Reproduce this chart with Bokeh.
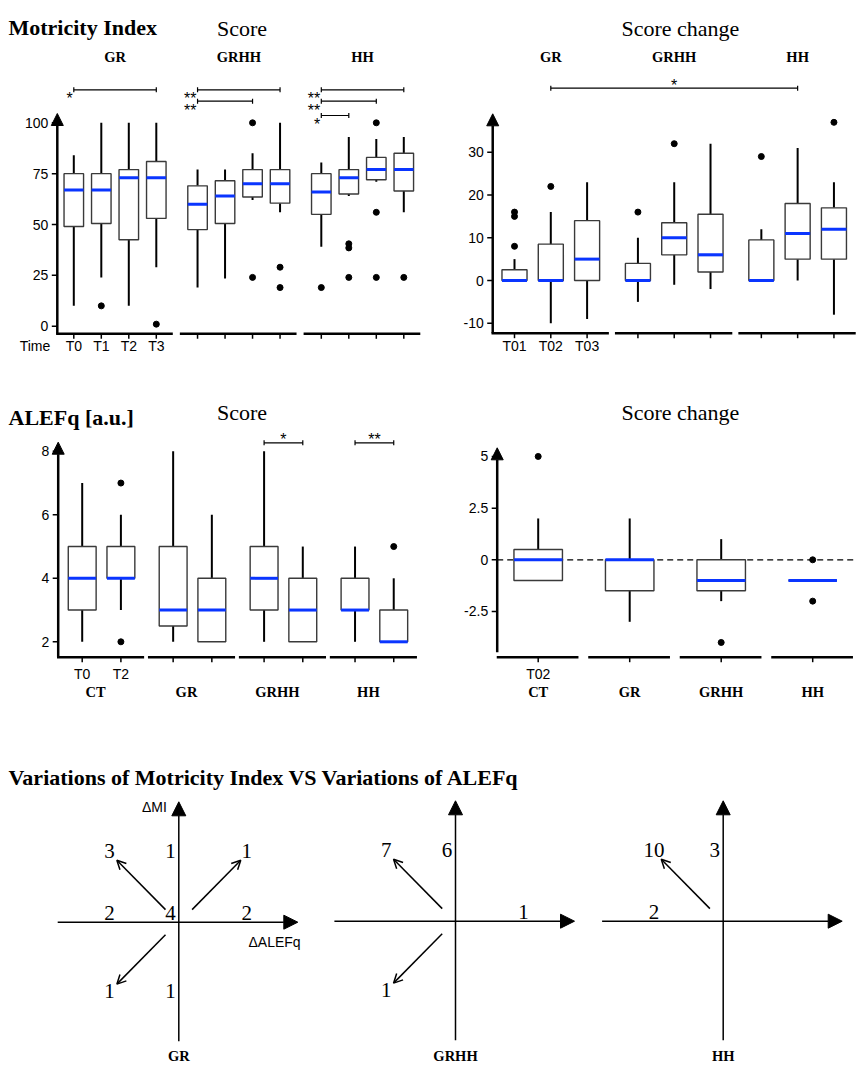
import numpy as np
from bokeh.plotting import figure
from bokeh.models import Range1d, Arrow, NormalHead, OpenHead
from bokeh.layouts import column, row
from bokeh.core.properties import value
from bokeh.embed import file_html
from bokeh.resources import INLINE

SERIF = "Liberation Serif"
SANS = "Liberation Sans"
BLUE = "#0a35ff"
BOXLINE = "#3a3a3a"

# ---------------- data ----------------
# Motricity Index score (five-number summaries per group x time)
mi_groups = ["GR", "GRHH", "HH"]
mi_times = ["T0", "T1", "T2", "T3"]
mi_lo = [10, 24, 10, 29, 19, 23.5, 62, 56, 39, 64, 71, 56]
mi_q1 = [49, 50.5, 42.5, 53, 47.5, 50.5, 63.5, 60.5, 55, 65, 72, 66.5]
mi_med = [67, 67, 73, 73, 60, 64, 70, 70, 66, 73, 77, 77]
mi_q3 = [75, 75, 77, 81, 69, 71.5, 77, 77, 75, 77, 83, 85]
mi_hi = [84, 100, 100, 100, 77, 77, 85, 100, 80.5, 93, 92, 93]
mi_out = [[], [10], [], [1], [], [], [100, 24], [29, 19], [19], [40.5, 38.5, 24], [100, 56, 24], [24]]
mi_ticks = [0, 25, 50, 75, 100]
# (group, from time index, to time index, stars, bracket row)
mi_sig = [("GR", 0, 3, "*", 0), ("GRHH", 0, 3, "**", 0), ("GRHH", 0, 2, "**", 1),
          ("HH", 0, 3, "**", 0), ("HH", 0, 2, "**", 1), ("HH", 0, 1, "*", 2)]

# Motricity Index score change
mic_times = ["T01", "T02", "T03"]
mic_lo = [0, -10, -9, -5, -1, -2, 0, 0, -8]
mic_q1 = [0, 0, 0, 0, 6, 2, 0, 5, 5]
mic_med = [0, 0, 5, 0, 10, 6, 0, 11, 12]
mic_q3 = [2.5, 8.5, 14, 4, 13.5, 15.5, 9.5, 18, 17]
mic_hi = [5, 16, 23, 10, 23, 32, 12, 31, 23]
mic_out = [[16, 15, 8], [22], [], [16], [32], [], [29], [], [37]]
mic_ticks = [-10, 0, 10, 20, 30]
mic_sig = [("GR", 1, "HH", 1, "*")]

# ALEFq score
al_groups = ["CT", "GR", "GRHH", "HH"]
al_times = ["T0", "T2"]
al_lo = [2, 3, 2, 2, 2, 2, 2, 2]
al_q1 = [3, 4, 2.5, 2, 3, 2, 3, 2]
al_med = [4, 4, 3, 3, 4, 3, 3, 2]
al_q3 = [5, 5, 5, 4, 5, 4, 4, 3]
al_hi = [7, 6, 8, 6, 8, 5, 5, 4]
al_out = [[], [7, 2], [], [], [], [], [], [5]]
al_ticks = [2, 4, 6, 8]
al_sig = [("GRHH", "*"), ("HH", "**")]

# ALEFq score change
alc_groups = ["CT", "GR", "GRHH", "HH"]
alc_time = "T02"
alc_lo = [-1, -3, -2, -1]
alc_q1 = [-1, -1.5, -1.5, -1]
alc_med = [0, 0, -1, -1]
alc_q3 = [0.5, 0, 0, -1]
alc_hi = [2, 2, 1, -1]
alc_out = [[5], [], [-4], [0, -2]]
alc_ticks = [-2.5, 0, 2.5, 5]

# Quadrant counts: rows dMI (+, 0, -), cols dALEFq (-, 0, +)
quad_groups = ["GR", "GRHH", "HH"]
quad_gr = [[3, 1, 1], [2, 4, 2], [1, 1, 0]]
quad_grhh = [[7, 6, 0], [0, 0, 1], [1, 0, 0]]
quad_hh = [[10, 3, 0], [2, 0, 0], [0, 0, 0]]


# ---------------- helpers ----------------
def make_fig(rect, xa_px, xa_val, x_ppu, ya_px, ya_val, y_ppu):
    x0, y0, x1, y1 = rect
    xr = Range1d(xa_val + (x0 - xa_px) / x_ppu, xa_val + (x1 - xa_px) / x_ppu)
    yr = Range1d(ya_val - (y1 - ya_px) / y_ppu, ya_val + (ya_px - y0) / y_ppu)
    p = figure(width=x1 - x0, height=y1 - y0, x_range=xr, y_range=yr,
               x_axis_type=None, y_axis_type=None, toolbar_location=None,
               output_backend="svg", min_border=0, title=None)
    p.outline_line_color = None
    p.background_fill_color = "white"
    p.border_fill_color = "white"
    fx = lambda px: xa_val + (px - xa_px) / x_ppu
    fy = lambda py: ya_val + (ya_px - py) / y_ppu
    return p, fx, fy, x_ppu, y_ppu


def txt(p, x, y, s, font=SANS, size="14px", style="normal", align="center",
        baseline="middle", xo=0, yo=0):
    p.text(x=[x], y=[y], text=[s], text_font=value(font), text_font_size=size,
           text_font_style=style, text_align=align, text_baseline=baseline,
           x_offset=xo, y_offset=yo, text_color="black")


def draw_boxes(p, xs, lo, q1, med, q3, hi, out, bw):
    p.segment(x0=xs, y0=q3, x1=xs, y1=hi, line_width=2, line_color="black")
    p.segment(x0=xs, y0=lo, x1=xs, y1=q1, line_width=2, line_color="black")
    p.vbar(x=xs, width=bw, bottom=q1, top=q3, fill_color="white",
           line_color=BOXLINE, line_width=1.4)
    p.segment(x0=[x - bw / 2 for x in xs], y0=med, x1=[x + bw / 2 for x in xs], y1=med,
              line_width=3, line_color=BLUE)
    ox = [x for x, o in zip(xs, out) for _ in o]
    oy = [v for o in out for v in o]
    p.scatter(ox, oy, size=6, color="black")


def y_axis(p, xpos, ybot, ytip, ticks, labels, xppu, head=12):
    p.add_layout(Arrow(x_start=xpos, y_start=ybot, x_end=xpos, y_end=ytip, line_width=2.5,
                       line_color="black",
                       end=NormalHead(size=head, fill_color="black", line_color="black")))
    p.segment(x0=[xpos - 5.5 / xppu] * len(ticks), y0=ticks, x1=[xpos] * len(ticks), y1=ticks,
              line_width=1.5, line_color="black")
    p.text(x=[xpos] * len(ticks), y=ticks, text=labels, text_font=value(SANS),
           text_font_size="14px", text_align="right", text_baseline="middle", x_offset=-9)


def x_axes(p, spans, yline, ticks_x, yppu, xppu):
    p.segment(x0=[a - 1.2 / xppu for a, b in spans], y0=[yline] * len(spans),
              x1=[b for a, b in spans], y1=[yline] * len(spans), line_width=2.5, line_color="black")
    p.segment(x0=ticks_x, y0=[yline] * len(ticks_x), x1=ticks_x,
              y1=[yline - 5 / yppu] * len(ticks_x), line_width=1.5, line_color="black")


def bracket(p, xa, xb, y, yppu, lw=1.2):
    p.segment(x0=[xa], y0=[y], x1=[xb], y1=[y], line_width=lw, line_color="black")
    p.segment(x0=[xa, xb], y0=[y - 2.5 / yppu] * 2, x1=[xa, xb], y1=[y + 2.5 / yppu] * 2,
              line_width=lw, line_color="black")


# ---------------- Panel A: Motricity Index score ----------------
pA, ax, ay, axp, ayp = make_fig((0, 0, 430, 362), 73.3, 0, 27.5, 325.7, 0, 2.034)
mi_base = [0, 4.5, 9]
mi_x = [b + i for b in mi_base for i in range(len(mi_times))]
A_yaxis = -0.6
A_xline = ay(333.3)
x_axes(pA, [(b - 0.6, b + len(mi_times) - 1 + 0.6) for b in mi_base], A_xline, mi_x, ayp, axp)
y_axis(pA, A_yaxis, A_xline, ay(113), mi_ticks, [str(t) for t in mi_ticks], axp)
draw_boxes(pA, mi_x, mi_lo, mi_q1, mi_med, mi_q3, mi_hi, mi_out, 0.71)
for i, t in enumerate(mi_times):
    txt(pA, mi_base[0] + i, ay(345.5), t)
txt(pA, A_yaxis, ay(345.5), "Time", align="right", xo=-7)
for g, b in zip(mi_groups, mi_base):
    txt(pA, b + 1.5, ay(56.7), g, font=SERIF, size="14.5px", style="bold")
A_rows = [ay(89.3), ay(100.7), ay(115)]
for g, i0, i1, stars, r in mi_sig:
    b = mi_base[mi_groups.index(g)]
    bracket(pA, b + i0, b + i1, A_rows[r], ayp)
    txt(pA, b + i0, A_rows[r], stars, size="16px", align="right", baseline="alphabetic", xo=-1, yo=9)
txt(pA, ax(8), ay(26.5), "Motricity Index", font=SERIF, size="22px", style="bold",
    align="left", baseline="alphabetic")
txt(pA, ax(216.5), ay(27.5), "Score", font=SERIF, size="22px", align="left", baseline="alphabetic")

# ---------------- Panel B: Motricity Index score change ----------------
pB, bx, by, bxp, byp = make_fig((430, 0, 858, 362), 514, 0, 36.3, 280, 0, 4.275)
mic_base = [0, 3.4, 6.8]
mic_x = [b + i for b in mic_base for i in range(len(mic_times))]
B_yaxis = -0.6
B_xline = by(332.7)
x_axes(pB, [(b - 0.6, b + len(mic_times) - 1 + 0.6) for b in mic_base], B_xline, mic_x, byp, bxp)
y_axis(pB, B_yaxis, B_xline, by(113.3), mic_ticks, [str(t) for t in mic_ticks], bxp)
draw_boxes(pB, mic_x, mic_lo, mic_q1, mic_med, mic_q3, mic_hi, mic_out, 0.69)
for i, t in enumerate(mic_times):
    txt(pB, mic_base[0] + i, by(345), t)
for g, b in zip(mi_groups, mic_base):
    txt(pB, b + 1, by(56.7), g, font=SERIF, size="14.5px", style="bold")
for g0, i0, g1, i1, stars in mic_sig:
    xa = mic_base[mi_groups.index(g0)] + i0
    xb = mic_base[mi_groups.index(g1)] + i1
    bracket(pB, xa, xb, by(87.7), byp)
    txt(pB, (xa + xb) / 2, by(87.7), stars, size="16px", baseline="alphabetic", yo=-3)
txt(pB, bx(621), by(27.5), "Score change", font=SERIF, size="22px", align="left", baseline="alphabetic")

# ---------------- Panel C: ALEFq score ----------------
pC, cx, cy, cxp, cyp = make_fig((0, 362, 430, 712), 81.7, 0, 38.7, 704.8, 0, 31.75)
al_base = [0, 2.35, 4.7, 7.05]
al_x = [b + i for b in al_base for i in range(len(al_times))]
C_yaxis = -0.62
C_xline = cy(656.7)
x_axes(pC, [(b - 0.62, b + len(al_times) - 1 + 0.6) for b in al_base], C_xline, al_x, cyp, cxp)
y_axis(pC, C_yaxis, C_xline, cy(441.7), al_ticks, [str(t) for t in al_ticks], cxp)
draw_boxes(pC, al_x, al_lo, al_q1, al_med, al_q3, al_hi, al_out, 0.72)
for i, t in enumerate(al_times):
    txt(pC, al_base[0] + i, cy(673), t)
for g, b in zip(al_groups, al_base):
    txt(pC, b + 0.5, cy(691.5), g, font=SERIF, size="14.5px", style="bold", xo=-6)
for g, stars in al_sig:
    b = al_base[al_groups.index(g)]
    bracket(pC, b, b + 1, cy(442.3), cyp)
    txt(pC, b + 0.5, cy(442.3), stars, size="16px", baseline="alphabetic", yo=-3.5)
txt(pC, cx(8), cy(416.5), "ALEFq [a.u.]", font=SERIF, size="22px", style="bold",
    align="left", baseline="alphabetic")
txt(pC, cx(216.5), cy(412.3), "Score", font=SERIF, size="22px", align="left", baseline="alphabetic")

# ---------------- Panel D: ALEFq score change ----------------
pD, dx, dy, dxp, dyp = make_fig((430, 362, 858, 712), 537.7, 0, 91.5, 559.3, 0, 20.67)
alc_x = list(range(len(alc_groups)))
D_yaxis = -0.448
D_xline = dy(656.7)
pD.segment(x0=[D_yaxis], y0=[0], x1=[dx(856)], y1=[0], line_width=1.3, line_color="black",
           line_dash="6 4")
x_axes(pD, [(c - 0.44, c + 0.44) for c in alc_x], D_xline, alc_x, dyp, dxp)
y_axis(pD, D_yaxis, dy(651.7), dy(447.3), alc_ticks, ["-2.5", "0", "2.5", "5"], dxp)
draw_boxes(pD, alc_x, alc_lo, alc_q1, alc_med, alc_q3, alc_hi, alc_out, 0.53)
txt(pD, alc_x[0], dy(673), alc_time)
for g, c in zip(alc_groups, alc_x):
    txt(pD, c, dy(691.5), g, font=SERIF, size="14.5px", style="bold")
txt(pD, dx(621), dy(412.3), "Score change", font=SERIF, size="22px", align="left", baseline="alphabetic")

# ---------------- Title for quadrant row ----------------
pT, tx, ty, _, _ = make_fig((0, 712, 858, 790), 0, 0, 1, 712, 0, 1)
txt(pT, tx(8), ty(777), "Variations of Motricity Index VS Variations of ALEFq", font=SERIF,
    size="22px", style="bold", align="left", baseline="alphabetic")

# ---------------- Quadrant diagrams ----------------
QX = {-1: -0.99, 0: -0.12, 1: 0.97}
QY = {1: 1.02, 0: 0.125, -1: -0.98}


def quad(rect, ccx, ccy, counts, name, first):
    p, fx, fy, _, _ = make_fig(rect, ccx, 0, 70, ccy, 0, 70)
    head = dict(fill_color="black", line_color="black")
    p.add_layout(Arrow(x_start=-1.73, y_start=0, x_end=1.70, y_end=0, line_width=1.5,
                       end=NormalHead(size=14, **head)))
    p.add_layout(Arrow(x_start=0, y_start=-1.70, x_end=0, y_end=1.72, line_width=1.5,
                       end=NormalHead(size=14, **head)))
    for r, mrow in zip([1, 0, -1], counts):
        for c, n in zip([-1, 0, 1], mrow):
            if n:
                txt(p, QX[c], QY[r], str(n), font=SERIF, size="21px")
                if r != 0 and c != 0:
                    p.add_layout(Arrow(x_start=0.19 * c, y_start=0.18 * r, x_end=0.885 * c,
                                       y_end=0.885 * r, line_width=1.5, line_color="black",
                                       end=OpenHead(size=9, line_width=1.5)))
    if first:
        txt(p, -0.17, fy(806.7), "\u0394MI", size="14px", align="right")
        txt(p, fx(248), fy(941.7), "\u0394ALEFq", size="14px", align="left")
    txt(p, 0, fy(1055), name, font=SERIF, size="14.5px", style="bold")
    return p


q1 = quad((0, 790, 316, 1064), 178.3, 921.7, quad_gr, quad_groups[0], True)
q2 = quad((316, 790, 590, 1064), 455, 920.7, quad_grhh, quad_groups[1], False)
q3 = quad((590, 790, 858, 1064), 722.7, 920.7, quad_hh, quad_groups[2], False)

layout = column(row(pA, pB), row(pC, pD), pT, row(q1, q2, q3))
open("out.html", "w").write(file_html(layout, INLINE))
